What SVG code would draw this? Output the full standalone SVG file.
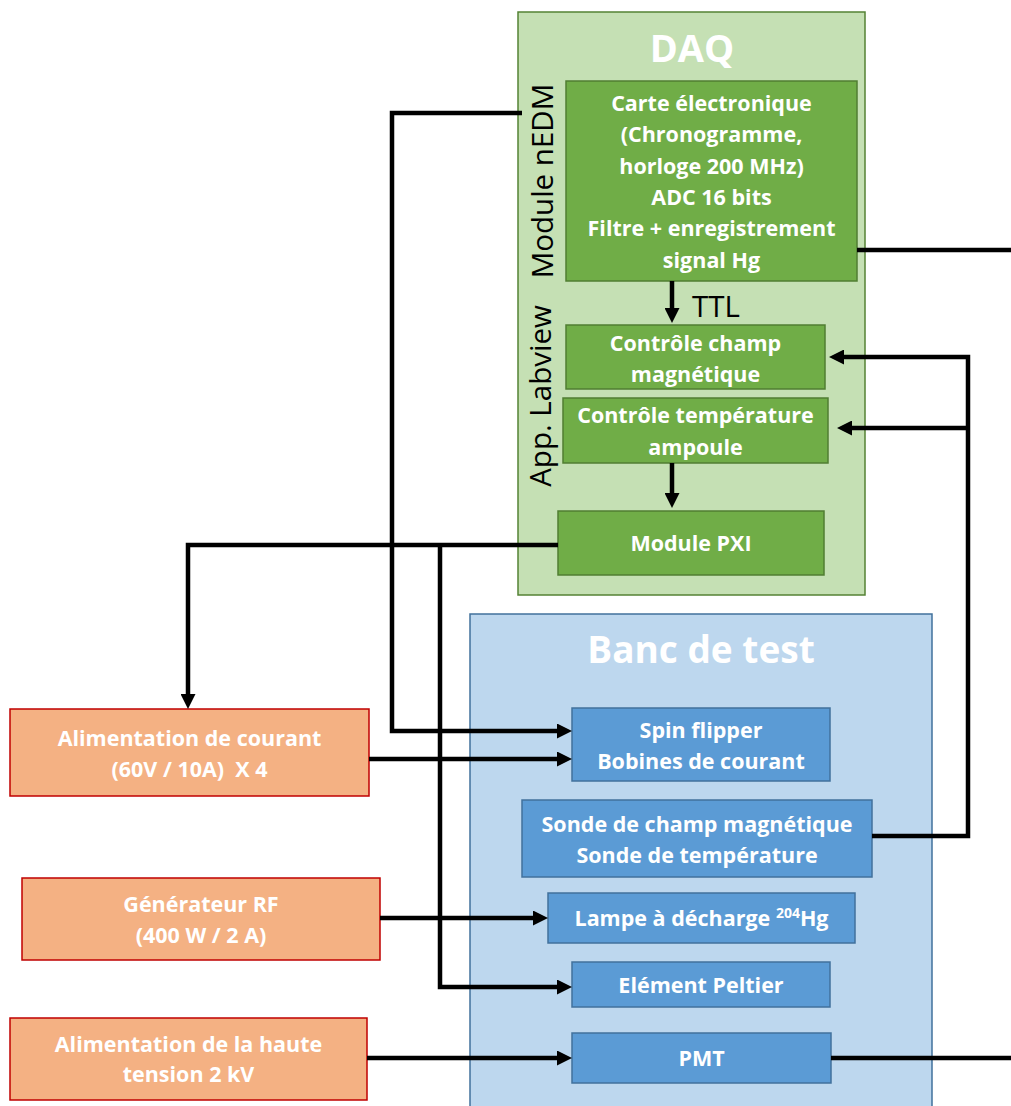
<svg xmlns="http://www.w3.org/2000/svg" width="1011" height="1106" viewBox="0 0 1011 1106">
<style>
.t{font-family:"Open Sans","Liberation Sans",sans-serif;font-weight:700;fill:#fff;text-anchor:middle;font-size:21.5px}
.title{font-family:"Open Sans","Liberation Sans",sans-serif;font-weight:700;fill:#fff;text-anchor:middle}
.side{font-family:"Open Sans","Liberation Sans",sans-serif;font-size:29.5px;fill:#000;text-anchor:middle}
.green{fill:#70AD47;stroke:#507E32;stroke-width:1.5}
.blue{fill:#5B9BD5;stroke:#41719C;stroke-width:1.5}
.orange{fill:#F4B183;stroke:#C00000;stroke-width:1.5}
.c{fill:none;stroke:#000;stroke-width:4.5}
</style>
<defs>
<marker id="ah" markerUnits="userSpaceOnUse" markerWidth="15" markerHeight="15" viewBox="0 0 15 15" refX="4" refY="7.5" orient="auto">
<path d="M0,0 L15,7.5 L0,15 z" fill="#000"/>
</marker>
</defs>
<g id="daq">
<rect x="518" y="12" width="347" height="583" fill="#C5E0B4" stroke="#548235" stroke-width="1.5"/>
<text class="title" x="692" y="62" font-size="38">DAQ</text>
<text class="side" transform="translate(553,181) rotate(-90)">Module nEDM</text>
<text class="side" transform="translate(551,396) rotate(-90)">App. Labview</text>
</g>
<g id="banc">
<rect x="470" y="614" width="462" height="510" fill="#BDD7EE" stroke="#41719C" stroke-width="1.5"/>
<text class="title" x="701" y="663" font-size="37">Banc de test</text>
</g>
<g id="carte">
<rect class="green" x="566" y="81" width="291" height="200"/>
<text class="t" x="711.5" y="110.5">Carte électronique</text>
<text class="t" x="711.5" y="142">(Chronogramme,</text>
<text class="t" x="711.5" y="173.5">horloge 200 MHz)</text>
<text class="t" x="711.5" y="204.5">ADC 16 bits</text>
<text class="t" x="711.5" y="236">Filtre + enregistrement</text>
<text class="t" x="711.5" y="268">signal Hg</text>
</g>
<g id="ctrl-champ">
<rect class="green" x="566" y="325" width="259" height="64"/>
<text class="t" x="695.5" y="350.5">Contrôle champ</text>
<text class="t" x="695.5" y="381.5">magnétique</text>
</g>
<g id="ctrl-temp">
<rect class="green" x="563" y="398" width="265" height="65"/>
<text class="t" x="695.5" y="422.5">Contrôle température</text>
<text class="t" x="695.5" y="454.5">ampoule</text>
</g>
<g id="pxi">
<rect class="green" x="558" y="511" width="266" height="64"/>
<text class="t" x="691" y="550.5">Module PXI</text>
</g>
<g id="spin">
<rect class="blue" x="572" y="708" width="258" height="73"/>
<text class="t" x="701" y="737.5">Spin flipper</text>
<text class="t" x="701" y="768.5">Bobines de courant</text>
</g>
<g id="sonde">
<rect class="blue" x="522" y="800" width="350" height="77"/>
<text class="t" x="697" y="831.5">Sonde de champ magnétique</text>
<text class="t" x="697" y="862.5">Sonde de température</text>
</g>
<g id="lampe">
<rect class="blue" x="548" y="893" width="307" height="50"/>
<text class="t" x="701.5" y="925.5">Lampe à décharge <tspan font-size="14" dy="-8">204</tspan><tspan dy="8">Hg</tspan></text>
</g>
<g id="peltier">
<rect class="blue" x="572" y="962" width="258" height="45"/>
<text class="t" x="701" y="992.5">Elément Peltier</text>
</g>
<g id="pmt">
<rect class="blue" x="572" y="1033" width="259" height="50"/>
<text class="t" x="701.5" y="1065.5">PMT</text>
</g>
<g id="alim-courant">
<rect class="orange" x="10" y="709" width="359" height="87"/>
<text class="t" x="189.5" y="745.5">Alimentation de courant</text>
<text class="t" x="189.5" y="777" xml:space="preserve">(60V / 10A)  X 4</text>
</g>
<g id="rf">
<rect class="orange" x="22" y="878" width="358" height="82"/>
<text class="t" x="201" y="912">Générateur RF</text>
<text class="t" x="201" y="943">(400 W / 2 A)</text>
</g>
<g id="ht">
<rect class="orange" x="10" y="1018" width="357" height="82"/>
<text class="t" x="188.5" y="1052">Alimentation de la haute</text>
<text class="t" x="188.5" y="1082">tension 2 kV</text>
</g>
<g id="connectors">
<path class="c" d="M522,113 H392 V731 H561" marker-end="url(#ah)"/>
<path class="c" d="M369,759 H561" marker-end="url(#ah)"/>
<path class="c" d="M558,545 H188 V698" marker-end="url(#ah)"/>
<path class="c" d="M440,545 V987 H561" marker-end="url(#ah)"/>
<path class="c" d="M380,918 H537" marker-end="url(#ah)"/>
<path class="c" d="M367,1058 H561" marker-end="url(#ah)"/>
<path class="c" d="M831,1058 H1011"/>
<path class="c" d="M857,250 H1011"/>
<path class="c" d="M872,836 H968 V357 H840" marker-end="url(#ah)"/>
<path class="c" d="M968,428 H848" marker-end="url(#ah)"/>
<path class="c" d="M672,281 V312" marker-end="url(#ah)"/>
<path class="c" d="M672,463 V497" marker-end="url(#ah)"/>
</g>
<text class="side" x="692" y="317" style="text-anchor:start">TTL</text>
</svg>
